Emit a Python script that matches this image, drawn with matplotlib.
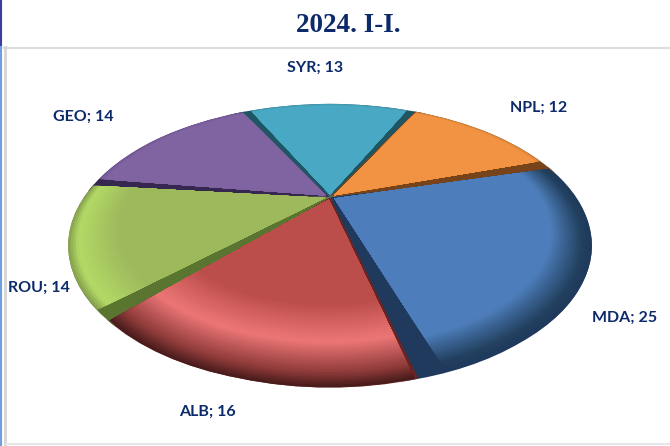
import numpy as np
import matplotlib
matplotlib.use('Agg')
import matplotlib.pyplot as plt
from matplotlib.colors import to_rgb
from matplotlib.lines import Line2D
from matplotlib.transforms import Transform

# chart values
countries = ['MDA', 'ALB', 'ROU', 'GEO', 'SYR', 'NPL']
values = [25, 16, 14, 14, 13, 12]

# label anchors in pixels
label_x = [625, 207, 39, 83, 315, 539]
label_y = [318, 412, 288, 117, 68, 108]

title = '2024. I-I.'
navy = '#0c2a6a'

wall_colors = ['#1f3a5c', '#6b2422', '#5a7530', '#35274f', '#1f5664', '#77431a']
# trim of the top face, low angle side and high angle side, shows the dark wall
trims = [(4.5, 0), (0, 0), (0, 3.2), (0, 2.2), (2, 1.5), (3, 0)]
# colour ramps of the bevel: (radius fraction, colour), rim first
ramps = [
    [(1.0, '#1f3a5c'), (0.97, '#22405f'), (0.86, '#4d7dba')],
    [(1.0, '#4a1c1c'), (0.95, '#8f3b3a'), (0.83, '#ec7676'), (0.66, '#bb4d4a')],
    [(1.0, '#8aa64e'), (0.97, '#b3d966'), (0.82, '#9db95c')],
    [(1.0, '#75589a'), (0.98, '#8063a1'), (0.80, '#8063a1')],
    [(1.0, '#4299b0'), (0.98, '#49a8c3'), (0.80, '#49a8c3')],
    [(1.0, '#d98438'), (0.98, '#f29343'), (0.80, '#f29343')],
]


class Perspective(Transform):
    input_dims = 2
    output_dims = 2
    is_separable = False
    has_inverse = False

    def transform_non_affine(self, values):
        pts = np.asarray(values)
        r = np.hypot(pts[:, 0], pts[:, 1])
        a = np.arctan2(pts[:, 1], pts[:, 0])
        # small angle warp for the view of the original 3d camera
        a = a + np.radians(5) * np.cos(a - np.radians(190))
        x = r * np.cos(a)
        y = r * np.sin(a)
        w = 1 + 0.342 * y
        return np.column_stack((330 + 246 * x / w, 197 - 125 * y / w))


def ramp_color(ramp, f):
    fr = [s[0] for s in ramp][::-1]
    cols = np.array([to_rgb(s[1]) for s in ramp])[::-1]
    return tuple(np.interp(f, fr, cols[:, i]) for i in range(3))


fig = plt.figure(figsize=(6.70, 4.46), dpi=100)
ax = fig.add_axes([0, 0, 1, 1])
persp = Perspective() + ax.transData
R = 0.98
explode = [0.02] * len(values)

# dark walls below, not exploded and a bit wider so they close the gaps
wedges, _ = ax.pie(values, colors=wall_colors, radius=1.0, startangle=20,
                   counterclock=False)
for w, t in zip(wedges, trims):
    w.set_theta1(w.theta1 - 3 * (t[0] > 0))
    w.set_theta2(w.theta2 + 3 * (t[1] > 0))
    w.set_transform(persp)

# top faces, drawn as shrinking rings for the bevel
for f in np.linspace(1, 0.6, 45):
    cols = [ramp_color(r, f) for r in ramps]
    wedges, _ = ax.pie(values, colors=cols, radius=R * f, startangle=20,
                       counterclock=False, explode=explode)
    for w, t in zip(wedges, trims):
        w.set_theta1(w.theta1 + t[0])
        w.set_theta2(w.theta2 - t[1])
        w.set_transform(persp)

ax.set_aspect('auto')
ax.set_xlim(0, 670)
ax.set_ylim(446, 0)
ax.axis('off')

for name, v, x, y in zip(countries, values, label_x, label_y):
    ax.text(x, y, '%s; %d' % (name, v), color=navy, ha='center', va='center',
            fontsize=11.5, fontweight='bold', family='Lato')

ax.text(348, 26, title, color=navy, ha='center', va='center', fontsize=19.5,
        fontweight='bold', family='Liberation Serif')

# frame of the panel
ax.add_line(Line2D([4, 670], [47.5, 47.5], color='#dddddd', lw=1.5))
ax.add_line(Line2D([5, 5], [47, 446], color='#d5d5d5', lw=2))
ax.add_line(Line2D([6, 670], [444, 444], color='#e6e6e6', lw=1.5))
ax.add_line(Line2D([1, 1], [0, 47], color='#3b3f9c', lw=1.5))
ax.add_line(Line2D([1, 1], [47, 446], color='#6f9fe0', lw=1.5))

fig.savefig('out.png', dpi=100)
